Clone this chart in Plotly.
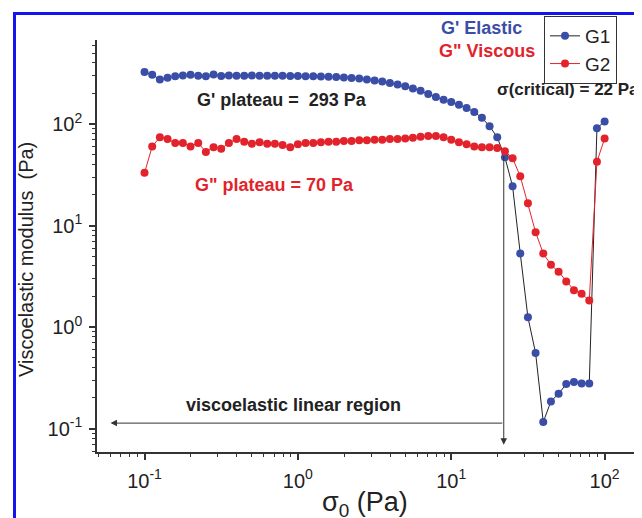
import math
import plotly.graph_objects as go

# ---- data ----
stress_pa = [
    0.1, 0.1122, 0.1259, 0.1413, 0.1585, 0.1778, 0.1995, 0.2239, 0.2512, 0.2818,
    0.3162, 0.3548, 0.3981, 0.4467, 0.5012, 0.5623, 0.631, 0.7079, 0.7943, 0.8913,
    1.0, 1.122, 1.259, 1.413, 1.585, 1.778, 1.995, 2.239, 2.512, 2.818,
    3.162, 3.548, 3.981, 4.467, 5.012, 5.623, 6.31, 7.079, 7.943, 8.913,
    10.0, 11.22, 12.59, 14.13, 15.85, 17.78, 19.95, 22.39, 25.12, 28.18,
    31.62, 35.48, 39.81, 44.67, 50.12, 56.23, 63.1, 70.79, 79.43, 89.13, 100.0,
]
g1_elastic = [
    325, 306, 275, 285, 295, 300, 305, 298, 296, 308,
    297, 300, 298, 299, 300, 298, 299, 298, 298, 297,
    297, 296, 295, 294, 292, 290, 287, 284, 280, 275,
    268, 262, 254, 245, 236, 224, 212, 198, 185, 173,
    165, 155, 144, 131, 115, 95, 74, 47, 24.3, 5.3,
    1.25, 0.555, 0.116, 0.185, 0.22, 0.274, 0.287, 0.277, 0.277, 91, 106,
]
g2_viscous = [
    33, 60, 74, 71, 65, 65, 60, 65, 53, 59,
    57, 65, 71, 67, 64, 66, 64, 64, 62, 59,
    63, 65, 65, 66, 67, 67, 68, 68, 69, 69,
    70, 70, 71, 71, 72, 73, 75, 76, 76, 74,
    70, 66, 63, 60, 59, 59, 58, 54, 46, 30.5,
    16.6, 8.6, 5.3, 4.1, 3.5, 2.8, 2.3, 2.13, 1.82, 42.5, 72,
]
series_names = ["G1", "G2"]
major_ticks = [0.1, 1, 10, 100]
major_tick_text = ["10<sup>-1</sup>", "10<sup>0</sup>", "10<sup>1</sup>", "10<sup>2</sup>"]
critical_stress = 22
arrow_left_end = 0.06
arrow_level = 0.113
arrow_bottom = 0.069
arrow_top = 50

# ---- styling ----
W, H = 642, 518
FONT = "Liberation Sans, Arial, sans-serif"
BLUE = "#3a4ea8"
RED = "#e3232b"
DARK = "#222222"

def px(x):
    return x / W

def py(y):
    return (H - y) / H

minor_vals = [d * m for d in (0.01, 0.1, 1, 10, 100) for m in range(2, 10)]

fig = go.Figure()
fig.add_trace(go.Scatter(
    x=stress_pa, y=g1_elastic, name=series_names[0], mode="lines+markers",
    line=dict(color=DARK, width=1),
    marker=dict(color=BLUE, size=8, line=dict(width=0)),
))
fig.add_trace(go.Scatter(
    x=stress_pa, y=g2_viscous, name=series_names[1], mode="lines+markers",
    line=dict(color=RED, width=1),
    marker=dict(color=RED, size=8, line=dict(width=0)),
))

axis_common = dict(
    type="log", showline=True, linecolor="#333", linewidth=2, mirror=False,
    ticks="outside", ticklen=6, tickwidth=1.5, tickcolor="#333",
    showgrid=False, zeroline=False, automargin=False,
    tickmode="array", tickvals=major_ticks, ticktext=major_tick_text,
    tickfont=dict(family=FONT, size=20, color=DARK),
    minor=dict(tickmode="array", tickvals=minor_vals, ticks="outside",
               ticklen=3.5, tickwidth=1.2, tickcolor="#333", showgrid=False),
)

fig.update_layout(
    width=W, height=H, template="none",
    margin=dict(l=0, r=0, t=0, b=0, pad=0),
    paper_bgcolor="white", plot_bgcolor="white",
    xaxis=dict(axis_common, range=[-1.308, 2.296], domain=[px(89.3), 1.0],
               anchor="y", ticklabelstandoff=4),
    yaxis=dict(axis_common, range=[-1.2266, 2.8305], domain=[py(443.5), py(31.7)],
               anchor="x", ticklabelstandoff=3),
    showlegend=True,
    legend=dict(x=px(536), y=py(8), xanchor="left", yanchor="top",
                bgcolor="white", bordercolor="#333", borderwidth=1,
                font=dict(family=FONT, size=19, color=DARK),
                itemwidth=30, tracegroupgap=0),
)

def text_ann(text, x, y, color=DARK, size=18, bold=True, xanchor="left"):
    t = f"<b>{text}</b>" if bold else text
    fig.add_annotation(text=t, x=px(x), y=py(y), xref="paper", yref="paper",
                       xanchor=xanchor, yanchor="middle", showarrow=False,
                       font=dict(family=FONT, size=size, color=color))

text_ann("G' Elastic", 431, 20, BLUE)
text_ann('G" Viscous', 429, 43, RED)
text_ann("G' plateau =\u00a0 293 Pa", 187, 92)
text_ann('G" plateau = 70 Pa', 185, 177, RED)
text_ann("σ(critical) = 22 Pa", 487, 81, size=17)
text_ann("viscoelastic linear region", 176, 397)

# axis titles
fig.add_annotation(text="Viscoelastic modulus\u00a0 (Pa)", x=px(18), y=py(252),
                   xref="paper", yref="paper", textangle=-90, showarrow=False,
                   xanchor="center", yanchor="middle",
                   font=dict(family=FONT, size=20, color=DARK))
fig.add_annotation(text="σ<sub>0</sub> (Pa)", x=px(357), y=py(496),
                   xref="paper", yref="paper", showarrow=False,
                   xanchor="center", yanchor="middle",
                   font=dict(family=FONT, size=27, color=DARK))

# arrows (log coordinates for annotations on log axes)
fig.add_annotation(x=math.log10(arrow_left_end), y=math.log10(arrow_level),
                   ax=math.log10(critical_stress), ay=math.log10(arrow_level),
                   xref="x", yref="y", axref="x", ayref="y", text="",
                   showarrow=True, arrowhead=2, arrowsize=1.3, arrowwidth=1,
                   arrowcolor="#333", standoff=0)
fig.add_annotation(x=math.log10(critical_stress), y=math.log10(arrow_bottom),
                   ax=math.log10(critical_stress), ay=math.log10(arrow_top),
                   xref="x", yref="y", axref="x", ayref="y", text="",
                   showarrow=True, arrowhead=2, arrowsize=1.3, arrowwidth=1,
                   arrowcolor="#333", standoff=0)

# blue frame around the picture
fig.add_shape(type="rect", xref="paper", yref="paper",
              x0=px(6.5), x1=1.05, y0=py(516.5), y1=py(5.5),
              line=dict(color="#1414f0", width=3), fillcolor="rgba(0,0,0,0)")

fig.write_html("out.html")
